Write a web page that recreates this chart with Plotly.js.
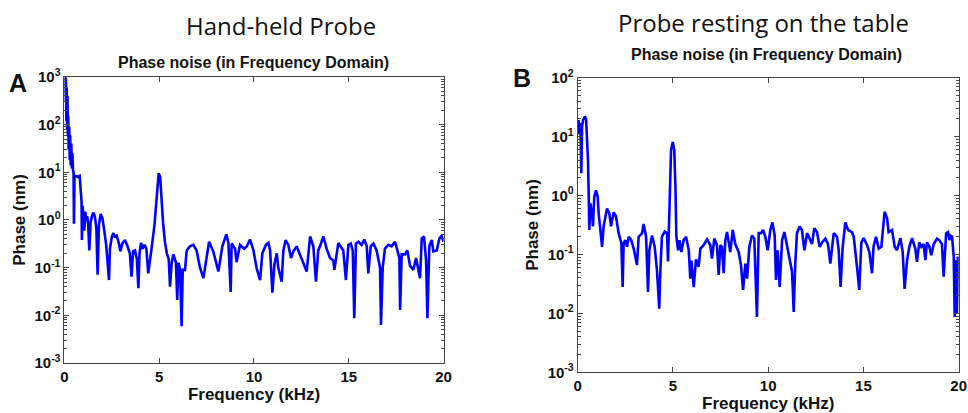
<!DOCTYPE html>
<html>
<head>
<meta charset="utf-8">
<script src="https://cdn.plot.ly/plotly-3.0.1.min.js"></script>
<style>html,body{margin:0;padding:0;background:#fff;}#chart{width:968px;height:413px;}</style>
</head>
<body>
<div id="chart"></div>
<script>
// Panel A: Hand-held probe (frequency in kHz, phase in nm)
const fA = [0.00,0.03,0.06,0.08,0.10,0.12,0.14,0.16,0.18,0.20,0.22,0.25,0.28,0.30,0.33,0.36,0.39,0.42,0.45,0.48,0.50,0.53,0.60,0.70,0.80,0.85,0.90,0.92,0.95,1.00,1.05,1.10,1.15,1.20,1.25,1.31,1.38,1.45,1.52,1.60,1.68,1.75,1.82,1.91,2.00,2.10,2.20,2.35,2.40,2.50,2.58,2.65,2.75,2.85,2.95,3.05,3.19,3.30,3.45,3.54,3.62,3.72,3.82,3.90,3.96,4.04,4.12,4.22,4.32,4.42,4.50,4.62,4.75,4.85,4.97,5.05,5.12,5.20,5.30,5.40,5.50,5.57,5.65,5.74,5.88,5.95,6.02,6.10,6.18,6.24,6.36,6.45,6.62,6.80,6.97,7.15,7.33,7.50,7.63,7.85,8.12,8.33,8.54,8.65,8.77,8.82,9.00,9.08,9.26,9.49,9.62,9.79,9.97,10.14,10.32,10.44,10.63,10.76,10.85,10.97,11.08,11.20,11.28,11.46,11.55,11.67,11.81,11.95,12.08,12.25,12.43,12.69,12.78,12.96,13.13,13.27,13.39,13.48,13.66,13.83,14.01,14.19,14.24,14.45,14.71,14.85,14.98,15.10,15.21,15.29,15.38,15.51,15.68,15.82,15.95,16.03,16.16,16.30,16.47,16.65,16.70,16.79,16.91,17.09,17.26,17.44,17.56,17.67,17.71,17.79,17.97,18.09,18.23,18.41,18.55,18.67,18.76,18.85,18.97,19.08,19.15,19.25,19.38,19.46,19.64,19.78,19.90,20.00];
const pA = [900,1000,300,950,120,600,80,400,60,150,30,90,18,60,14,40,12,25,11,10,0.83,8,8.4,8.0,8.4,5,2.5,0.38,2.0,1.3,0.6,1.5,1.0,1.2,0.8,0.23,0.9,1.2,1.43,1.2,0.7,0.071,0.8,1.34,1.1,0.6,0.3,0.055,0.25,0.45,0.53,0.45,0.47,0.35,0.22,0.32,0.38,0.3,0.2,0.065,0.22,0.23,0.15,0.037,0.2,0.33,0.25,0.3,0.25,0.076,0.15,0.3,0.8,3.0,9.6,8,2.5,0.9,0.35,0.2,0.15,0.04,0.12,0.19,0.13,0.021,0.126,0.09,0.0059,0.09,0.09,0.23,0.28,0.30,0.23,0.1,0.06,0.19,0.35,0.22,0.083,0.28,0.50,0.33,0.031,0.32,0.25,0.13,0.30,0.25,0.28,0.39,0.23,0.097,0.055,0.2,0.30,0.33,0.23,0.03,0.12,0.2,0.1,0.051,0.23,0.38,0.30,0.16,0.22,0.28,0.19,0.1,0.083,0.45,0.28,0.051,0.23,0.28,0.45,0.25,0.16,0.14,0.09,0.33,0.23,0.055,0.30,0.32,0.23,0.0087,0.32,0.35,0.30,0.39,0.28,0.076,0.28,0.32,0.23,0.1,0.0063,0.1,0.25,0.3,0.28,0.35,0.23,0.16,0.013,0.19,0.19,0.23,0.11,0.09,0.16,0.1,0.06,0.41,0.45,0.14,0.0087,0.28,0.38,0.22,0.23,0.41,0.46,0.35];

// Panel B: Probe resting on the table
const fB = [0.00,0.05,0.085,0.14,0.19,0.23,0.28,0.37,0.44,0.49,0.54,0.58,0.61,0.66,0.75,0.80,0.87,0.96,1.05,1.10,1.19,1.28,1.36,1.54,1.66,1.75,1.89,2.01,2.15,2.29,2.36,2.41,2.50,2.59,2.68,2.81,2.94,3.11,3.20,3.38,3.46,3.59,3.69,3.76,3.90,4.04,4.16,4.28,4.34,4.42,4.57,4.69,4.74,4.81,4.90,4.99,5.07,5.13,5.18,5.27,5.34,5.44,5.56,5.69,5.83,5.91,5.97,6.09,6.21,6.35,6.44,6.61,6.79,6.96,7.05,7.17,7.31,7.40,7.49,7.57,7.66,7.75,7.84,8.01,8.14,8.27,8.45,8.57,8.68,8.80,8.89,9.01,9.15,9.27,9.41,9.50,9.62,9.73,9.85,9.97,10.11,10.22,10.34,10.41,10.50,10.60,10.73,10.85,10.99,11.13,11.25,11.34,11.42,11.51,11.65,11.77,11.90,12.04,12.18,12.30,12.42,12.56,12.70,12.83,13.00,13.14,13.26,13.44,13.61,13.70,13.80,13.91,14.05,14.19,14.40,14.49,14.66,14.78,14.89,15.01,15.19,15.31,15.45,15.53,15.66,15.80,15.94,16.11,16.24,16.32,16.50,16.64,16.76,16.94,17.06,17.16,17.29,17.41,17.55,17.72,17.81,17.93,18.04,18.16,18.25,18.33,18.46,18.56,18.69,18.86,18.98,19.12,19.21,19.34,19.44,19.51,19.56,19.65,19.74,19.79,19.82,19.88,19.91,19.96,20.00];
const pB = [17,19,11,17,2.4,15,19,22,20,10,4.0,0.96,0.26,0.74,0.5,0.3,0.96,1.23,0.96,0.5,0.26,0.135,0.3,0.6,0.5,0.3,0.52,0.44,0.23,0.155,0.028,0.155,0.175,0.135,0.2,0.175,0.126,0.066,0.2,0.23,0.33,0.2,0.023,0.117,0.21,0.135,0.054,0.012,0.054,0.2,0.245,0.23,0.076,0.38,5.9,8.1,5.9,1.41,0.2,0.117,0.175,0.11,0.175,0.2,0.117,0.039,0.079,0.028,0.083,0.062,0.126,0.144,0.18,0.144,0.085,0.186,0.144,0.045,0.144,0.135,0.048,0.175,0.24,0.11,0.26,0.15,0.11,0.066,0.025,0.07,0.039,0.135,0.21,0.186,0.0087,0.23,0.23,0.26,0.2,0.118,0.26,0.35,0.21,0.037,0.118,0.028,0.175,0.24,0.135,0.08,0.051,0.0106,0.07,0.23,0.30,0.26,0.118,0.23,0.175,0.15,0.28,0.24,0.135,0.16,0.186,0.15,0.07,0.23,0.2,0.118,0.028,0.135,0.35,0.26,0.24,0.2,0.062,0.025,0.16,0.19,0.144,0.11,0.048,0.135,0.2,0.126,0.135,0.53,0.41,0.24,0.26,0.135,0.118,0.19,0.11,0.026,0.08,0.135,0.19,0.126,0.075,0.16,0.135,0.15,0.08,0.16,0.135,0.097,0.15,0.186,0.175,0.15,0.042,0.23,0.24,0.175,0.21,0.2,0.091,0.0087,0.08,0.07,0.01,0.091,0.085];

const xTicks = [0, 5, 10, 15, 20];
const yExpA = [-3, -2, -1, 0, 1, 2, 3];
const yExpB = [-3, -2, -1, 0, 1, 2];

const axisColor = '#444';
const tickFont = {family: 'Liberation Sans, Arial, sans-serif', size: 15, color: '#111', weight: 'bold'};
const titleFont = {family: 'Liberation Sans, Arial, sans-serif', size: 17, color: '#111', weight: 'bold'};

function decades(exps) {
  return exps.map(e => Math.pow(10, e));
}
function decadeLabels(exps) {
  return exps.map(e => '10<sup>' + e + '</sup>');
}
function minorVals(exps) {
  const out = [];
  for (let i = 0; i < exps.length - 1; i++) {
    for (let k = 2; k <= 9; k++) out.push(k * Math.pow(10, exps[i]));
  }
  return out;
}

function xAxis(domain) {
  return {
    domain: domain, range: [0, 20], tickvals: xTicks, ticktext: xTicks.map(String),
    ticks: 'inside', ticklen: 5, tickcolor: axisColor, showline: true, linecolor: axisColor,
    linewidth: 1, mirror: 'ticks', showgrid: false, zeroline: false, tickfont: tickFont,
    title: {text: 'Frequency (kHz)', font: titleFont, standoff: 2}, automargin: false
  };
}
function yAxis(domain, exps, anchor) {
  return {
    domain: domain, type: 'log', range: [exps[0], exps[exps.length - 1]],
    tickmode: 'array', tickvals: decades(exps), ticktext: decadeLabels(exps),
    ticks: 'inside', ticklen: 5, tickcolor: axisColor, showline: true, linecolor: axisColor,
    linewidth: 1, mirror: 'ticks', showgrid: false, zeroline: false, tickfont: tickFont,
    minor: {tickmode: 'array', tickvals: minorVals(exps), ticks: 'inside', ticklen: 3, tickwidth: 1, tickcolor: axisColor, showgrid: false},
    title: {text: 'Phase (nm)', font: titleFont, standoff: 4}, automargin: false, anchor: anchor
  };
}

const traces = [
  {x: fA, y: pA, type: 'scatter', mode: 'lines', line: {color: '#0000ff', width: 2.6}, xaxis: 'x', yaxis: 'y'},
  {x: fB, y: pB, type: 'scatter', mode: 'lines', line: {color: '#0000ff', width: 2.6}, xaxis: 'x2', yaxis: 'y2'}
];

const layout = {
  width: 968, height: 413, margin: {l: 0, r: 0, t: 0, b: 0},
  paper_bgcolor: '#fff', plot_bgcolor: '#fff', showlegend: false,
  xaxis: Object.assign(xAxis([0.0666, 0.4582]), {anchor: 'y'}),
  yaxis: yAxis([0.1211, 0.8136], yExpA, 'x'),
  xaxis2: Object.assign(xAxis([0.5968, 0.9904]), {anchor: 'y2'}),
  yaxis2: yAxis([0.0985, 0.8119], yExpB, 'x2'),
  annotations: [
    {text: 'Hand-held Probe', xref: 'paper', yref: 'paper', x: 281/968, y: 1 - 26/413, showarrow: false, xanchor: 'center', yanchor: 'middle', font: {family: 'Open Sans, sans-serif', size: 24, color: '#111'}},
    {text: 'Probe resting on the table', xref: 'paper', yref: 'paper', x: 763/968, y: 1 - 22/413, showarrow: false, xanchor: 'center', yanchor: 'middle', font: {family: 'Open Sans, sans-serif', size: 24, color: '#111'}},
    {text: 'Phase noise (in Frequency Domain)', xref: 'paper', yref: 'paper', x: 253/968, y: 1 - 62.5/413, showarrow: false, xanchor: 'center', yanchor: 'middle', font: {family: 'Liberation Sans, Arial, sans-serif', size: 16, color: '#111', weight: 'bold'}},
    {text: 'Phase noise (in Frequency Domain)', xref: 'paper', yref: 'paper', x: 766/968, y: 1 - 54.5/413, showarrow: false, xanchor: 'center', yanchor: 'middle', font: {family: 'Liberation Sans, Arial, sans-serif', size: 16, color: '#111', weight: 'bold'}},
    {text: 'A', xref: 'paper', yref: 'paper', x: 18/968, y: 1 - 83/413, showarrow: false, xanchor: 'center', yanchor: 'middle', font: {family: 'Liberation Sans, Arial, sans-serif', size: 25, color: '#111', weight: 'bold'}},
    {text: 'B', xref: 'paper', yref: 'paper', x: 522/968, y: 1 - 78/413, showarrow: false, xanchor: 'center', yanchor: 'middle', font: {family: 'Liberation Sans, Arial, sans-serif', size: 25, color: '#111', weight: 'bold'}}
  ]
};

Plotly.newPlot('chart', traces, layout, {staticPlot: true, displayModeBar: false});
</script>
</body>
</html>
